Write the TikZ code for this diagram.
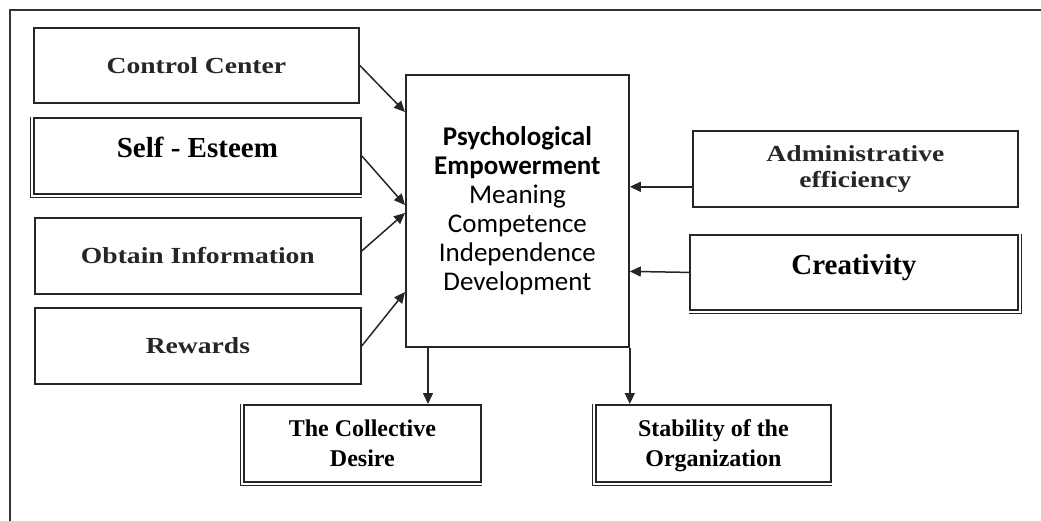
\documentclass[tikz,border=0pt]{standalone}
\usepackage{fontspec}
\usetikzlibrary{arrows.meta,calc}
\newfontfamily\timesfont{Liberation Serif}
\newfontfamily\centfont{Liberation Serif}[FakeStretch=1.2]
\newfontfamily\califont{Carlito}
\begin{document}
\begin{tikzpicture}[x=1pt,y=-1pt,
  box/.style={draw=black!85, line width=1.8pt, rectangle, inner sep=0pt, anchor=north west, align=center, text=black},
  cent/.style={font=\centfont\bfseries\fontsize{23}{26}\selectfont, text=black!85},
  timbig/.style={font=\timesfont\bfseries\fontsize{29}{32}\selectfont},
  timsm/.style={font=\timesfont\bfseries\fontsize{24}{30}\selectfont},
  shadowline/.style={draw=black!85, line width=1.3pt},
  arr/.style={draw=black!85, line width=1.5pt, -{Triangle[length=11pt,width=10pt]}},
  frameline/.style={draw=black!80, line width=2.2pt}
]
\useasboundingbox (0,0) rectangle (1041,521);
\draw[frameline] (10,521) -- (10,10) -- (1041,10);

% left boxes
\node[box,cent,minimum width=325pt,minimum height=75pt] (cc) at (33,27) {Control Center};
\node[box,timbig,minimum width=327pt,minimum height=76pt,text height=20pt,text depth=16pt] (se) at (33,117) {Self - Esteem};
\node[box,cent,minimum width=326pt,minimum height=76pt] (oi) at (34,217) {Obtain Information};
\node[box,cent,minimum width=326pt,minimum height=76pt] (rw) at (34,307) {Rewards};

% central box
\node[box,minimum width=223pt,minimum height=272pt,font=\califont\fontsize{27}{29}\selectfont] (pe) at (405,74)
  {\textbf{Psychological}\\\textbf{Empowerment}\\Meaning\\Competence\\Independence\\Development};

% right boxes
\node[box,cent,minimum width=325pt,minimum height=76pt] (ae) at (692,130) {Administrative\\efficiency};
\node[box,timbig,minimum width=328pt,minimum height=75pt,text height=20pt,text depth=15pt] (cr) at (689,234) {Creativity};

% bottom boxes
\node[box,timsm,minimum width=237pt,minimum height=77pt] (cd) at (243,404) {The Collective\\Desire};
\node[box,timsm,minimum width=235pt,minimum height=77pt,text depth=0pt] (so) at (595,404) {Stability of the\\Organization};

% shadow / double borders
\draw[shadowline] ([xshift=-2.8pt]se.north west) -- ([xshift=-2.8pt,yshift=-2.8pt]se.south west) -- ([yshift=-2.8pt]se.south east);
\draw[shadowline] ([xshift=2.8pt]cr.north east) -- ([xshift=2.8pt,yshift=-2.8pt]cr.south east) -- ([yshift=-2.8pt]cr.south west);
\draw[shadowline] ([xshift=-2.8pt]cd.north west) -- ([xshift=-2.8pt,yshift=-2.8pt]cd.south west) -- ([yshift=-2.8pt]cd.south east);
\draw[shadowline] ([xshift=-2.8pt]so.north west) -- ([xshift=-2.8pt,yshift=-2.8pt]so.south west) -- ([yshift=-2.8pt]so.south east);

% arrows into central box
\coordinate (p1) at ($(pe.north west)+(0,38)$);
\coordinate (p2) at ($(pe.north west)+(0,131)$);
\coordinate (p3) at ($(pe.north west)+(0,139)$);
\coordinate (p4) at ($(pe.north west)+(0,218)$);
\coordinate (o3) at ($(oi.east)+(0,-5)$);
\draw[arr] (cc.east) -- (p1);
\draw[arr] (se.east) -- (p2);
\draw[arr] (o3) -- (p3);
\draw[arr] (rw.east) -- (p4);

\coordinate (a1) at ($(ae.south west)+(0,-21)$);
\draw[arr] (a1) -- (pe.east |- a1);
\draw[arr] (cr.west) -- ($(pe.east |- cr.west)+(0,-1)$);

% arrows down
\coordinate (d1) at ($(pe.south west)+(23,0)$);
\draw[arr] (d1) -- (d1 |- cd.north);
\draw[arr] (pe.south east) -- (pe.south east |- so.north);
\end{tikzpicture}
\end{document}
